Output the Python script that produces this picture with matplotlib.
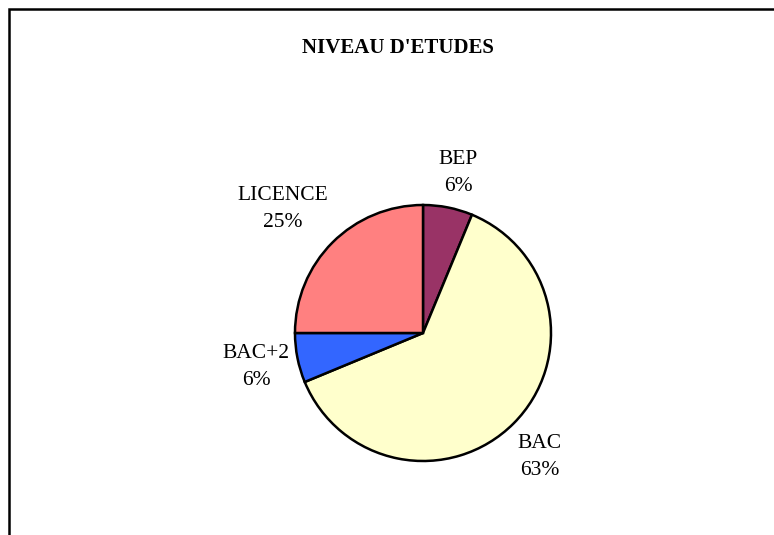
import matplotlib
matplotlib.use('Agg')
import matplotlib.pyplot as plt
from matplotlib.patches import Rectangle

categories = ['BEP', 'BAC', 'BAC+2', 'LICENCE']
shares = [6.25, 62.5, 6.25, 25.0]
pct_labels = ['6%', '63%', '6%', '25%']
colors = ['#993366', '#FFFFCC', '#3366FF', '#FF8080']

plt.rcParams['font.family'] = ['Liberation Serif', 'DejaVu Serif']

fig = plt.figure(figsize=(7.74, 5.35), dpi=100)

# chart frame (only top and left edges visible in the crop)
fig.add_artist(Rectangle((9 / 774, -0.1), 1.2, 1.1 - 9 / 535,
                         transform=fig.transFigure, fill=False,
                         lw=1.8, edgecolor='black'))

ax = fig.add_axes([0, 0, 1, 1])

labels = [f'{c}\n{p}' for c, p in zip(categories, pct_labels)]
wedges, texts = ax.pie(shares, labels=labels, colors=colors, startangle=90,
                       counterclock=False, center=(423, 202), radius=128,
                       labeldistance=1.32, frame=True,
                       wedgeprops=dict(edgecolor='black', linewidth=1.8),
                       textprops=dict(fontsize=15.5, ha='center', va='center',
                                      linespacing=1.52))
ax.set_xlim(0, 774)
ax.set_ylim(0, 535)
ax.set_aspect('equal')
ax.axis('off')
# Excel-style manual placement for a few labels
texts[0].set_position((458, 535 - 173))
texts[1].set_position((540, 535 - 457))
texts[2].set_position((256, 535 - 367))
texts[3].set_position((283, 535 - 209))

fig.text(398 / 774, 1 - 48 / 535, "NIVEAU D'ETUDES", ha='center', va='center',
         fontsize=15, fontweight='bold')

fig.savefig('out.png', dpi=100)
